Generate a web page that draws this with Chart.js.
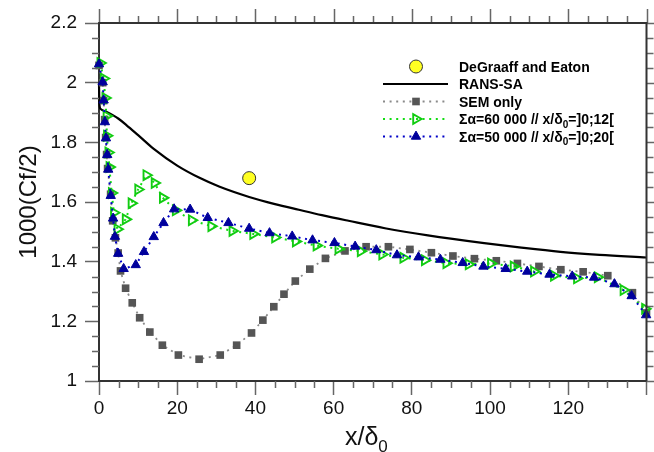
<!DOCTYPE html>
<html>
<head>
<meta charset="utf-8">
<title>Skin friction along the plate</title>
<script src="https://cdn.jsdelivr.net/npm/chart.js@4.4.1/dist/chart.umd.min.js"></script>
<style>
  html, body { margin: 0; padding: 0; background: #fff; }
  canvas { display: block; }
</style>
</head>
<body>
<canvas id="chart" width="654" height="452"></canvas>
<script>
// Cf distribution, RANS-SA vs SEM inflow variants.
const X_MIN = 0, X_MAX = 140, X_STEP = 20, X_MINOR = 5;
const Y_MIN = 1, Y_MAX = 2.2, Y_STEP = 0.2, Y_MINOR = 0.05;

const expX = [38.4];
const expY = [1.68];

const ransX = [0, 0.1, 0.4, 1.6, 3.3, 5, 7, 10, 14, 20, 25.7, 30.7, 38.4, 45, 51.1, 57, 63.8, 73.1, 84.1, 98.5, 108, 118, 128, 140];
const ransY = [2.0, 1.93, 1.912, 1.904, 1.893, 1.879, 1.858, 1.824, 1.778, 1.722, 1.681, 1.652, 1.617, 1.593, 1.574, 1.556, 1.537, 1.512, 1.488, 1.462, 1.447, 1.433, 1.423, 1.414];

const semX = [0, 0.94, 1.19, 1.45, 1.7, 1.95, 2.2, 2.97, 3.5, 4.2, 4.9, 5.5, 6.8, 8.5, 10.4, 13.0, 16.2, 20.3, 25.6, 31.0, 35.2, 39.0, 41.9, 44.7, 47.3, 50.2, 53.9, 57.9, 62.9, 68.3, 74.0, 79.5, 85.0, 90.5, 96.0, 101.6, 107.0, 112.5, 118.1, 123.8, 130.1, 136.4, 140];
const semY = [2.058, 2.0, 1.94, 1.876, 1.816, 1.759, 1.712, 1.626, 1.537, 1.48, 1.429, 1.369, 1.311, 1.262, 1.212, 1.164, 1.120, 1.087, 1.073, 1.087, 1.120, 1.161, 1.204, 1.249, 1.291, 1.335, 1.375, 1.411, 1.436, 1.450, 1.450, 1.441, 1.430, 1.419, 1.410, 1.403, 1.394, 1.384, 1.373, 1.366, 1.353, 1.296, 1.228];

const a60X = [0.33, 1.19, 1.6, 1.9, 2.0, 2.37, 2.65, 3.25, 3.8, 4.7, 6.8, 8.3, 10.0, 12.1, 14.2, 16.3, 19.6, 23.7, 28.7, 34.1, 39.4, 45.0, 50.3, 55.6, 61.2, 66.9, 72.4, 77.8, 83.3, 88.8, 94.5, 100.2, 106.0, 111.2, 116.3, 122.2, 127.5, 134.1, 139.6];
const a60Y = [2.066, 2.014, 1.949, 1.888, 1.822, 1.766, 1.717, 1.63, 1.564, 1.509, 1.542, 1.596, 1.642, 1.690, 1.664, 1.614, 1.572, 1.539, 1.519, 1.503, 1.493, 1.481, 1.468, 1.454, 1.443, 1.435, 1.424, 1.413, 1.405, 1.395, 1.391, 1.394, 1.384, 1.367, 1.353, 1.344, 1.348, 1.305, 1.242];

const a50X = [0, 0.94, 1.19, 1.5, 1.78, 2.1, 2.36, 3.0, 3.6, 4.07, 4.9, 6.3, 9.4, 11.5, 14.0, 16.5, 19.2, 23.3, 27.8, 33.1, 38.4, 43.6, 49.4, 54.6, 60.2, 65.5, 70.9, 76.2, 81.7, 87.3, 93.0, 98.3, 104.0, 109.5, 115.2, 121.0, 126.6, 131.8, 136.2, 139.9];
const a50Y = [2.062, 2.002, 1.941, 1.868, 1.814, 1.758, 1.709, 1.621, 1.545, 1.484, 1.427, 1.376, 1.389, 1.433, 1.483, 1.530, 1.576, 1.575, 1.547, 1.530, 1.511, 1.496, 1.485, 1.472, 1.463, 1.451, 1.439, 1.422, 1.415, 1.407, 1.396, 1.384, 1.376, 1.367, 1.357, 1.351, 1.347, 1.325, 1.285, 1.221];

const legendLabels = [
  'DeGraaff and Eaton',
  'RANS-SA',
  'SEM only',
  'Σα=60 000 // x/δ_0=]0;12[',
  'Σα=50 000 // x/δ_0=]0;20['
];

const FONT = '"Liberation Sans", Arial, Helvetica, sans-serif';
const DOTS = [2, 4.6];

const pts = (xs, ys) => xs.map((x, i) => ({ x, y: ys[i] }));

const datasets = [
  { label: legendLabels[0], data: pts(expX, expY), showLine: false, order: 0,
    pointStyle: 'circle', pointRadius: 6.5, pointBackgroundColor: '#ffff22',
    pointBorderColor: '#333', pointBorderWidth: 1 },
  { label: legendLabels[1], data: pts(ransX, ransY), showLine: true, order: 4,
    borderColor: '#000', borderWidth: 2.2, pointRadius: 0, cubicInterpolationMode: 'monotone' },
  { label: legendLabels[2], data: pts(semX, semY), showLine: true, order: 3,
    borderColor: '#8a8a8a', borderWidth: 1.8, borderDash: DOTS,
    pointStyle: 'rect', pointRadius: 5.4, pointBackgroundColor: '#555', pointBorderColor: '#555', pointBorderWidth: 0 },
  { label: legendLabels[3], data: pts(a60X, a60Y), showLine: true, order: 2,
    borderColor: '#11dd11', borderWidth: 2, borderDash: DOTS,
    pointStyle: 'triangle', pointRotation: 90, pointRadius: 5.6,
    pointBackgroundColor: 'rgba(0,0,0,0)', pointBorderColor: '#11cc11', pointBorderWidth: 1.9 },
  { label: legendLabels[4], data: pts(a50X, a50Y), showLine: true, order: 1,
    borderColor: '#0000c8', borderWidth: 2, borderDash: DOTS,
    pointStyle: 'triangle', pointRadius: 5.4, pointBackgroundColor: '#00009c',
    pointBorderColor: '#00009c', pointBorderWidth: 1 }
];

// text with "_c" meaning: draw c as a subscript
function richText(ctx, str, x, y, size, bold) {
  const parts = str.split(/_(.)/);
  const w = bold ? 'bold ' : '';
  parts.forEach((p, i) => {
    const sub = i % 2 === 1;
    ctx.font = w + (sub ? Math.round(size * 0.68) : size) + 'px ' + FONT;
    ctx.fillText(p, x, sub ? y + size * 0.28 : y);
    x += ctx.measureText(p).width;
  });
}

const frame = {
  id: 'frame',
  afterDraw(chart) {
    const { ctx, chartArea: a, scales: { x, y } } = chart;
    ctx.save();

    // minor ticks left/bottom, all ticks top/right
    ctx.strokeStyle = '#666';
    ctx.lineWidth = 1.5;
    ctx.beginPath();
    const nx = Math.round((X_MAX - X_MIN) / X_MINOR);
    for (let i = 0; i <= nx; i++) {
      const v = X_MIN + i * X_MINOR;
      const px = Math.round(x.getPixelForValue(v)) + 0.5;
      const major = Math.abs(v / X_STEP - Math.round(v / X_STEP)) < 1e-6;
      if (!major) { ctx.moveTo(px, a.bottom); ctx.lineTo(px, a.bottom + 7); }
      ctx.moveTo(px, a.top); ctx.lineTo(px, a.top - (major ? 14 : 7));
    }
    const ny = Math.round((Y_MAX - Y_MIN) / Y_MINOR);
    for (let i = 0; i <= ny; i++) {
      const v = Y_MIN + i * Y_MINOR;
      const py = Math.round(y.getPixelForValue(v)) + 0.5;
      const major = i % Math.round(Y_STEP / Y_MINOR) === 0;
      if (!major) { ctx.moveTo(a.left, py); ctx.lineTo(a.left - 7, py); }
      ctx.moveTo(a.right, py); ctx.lineTo(a.right + (major ? 14 : 7), py);
    }
    ctx.stroke();

    ctx.strokeStyle = '#333';
    ctx.lineWidth = 2;
    ctx.beginPath();
    ctx.moveTo(a.left, a.top);
    ctx.lineTo(a.right, a.top);
    ctx.lineTo(a.right, a.bottom);
    ctx.stroke();

    // axis titles
    ctx.fillStyle = '#111';
    ctx.textBaseline = 'alphabetic';
    ctx.save();
    ctx.translate(36, (a.top + a.bottom) / 2);
    ctx.rotate(-Math.PI / 2);
    ctx.textAlign = 'center';
    ctx.font = '24px ' + FONT;
    ctx.fillText('1000(Cf/2)', 0, 0);
    ctx.restore();
    ctx.textAlign = 'left';
    richText(ctx, 'x/δ_0', 345, 445, 25, false);

    // legend
    const rowY = [66.5, 84, 101.5, 119, 136.5];
    const lx0 = 383, lx1 = 448, mx = 416, tx = 459;
    chart.data.datasets.forEach((ds, i) => {
      const ry = rowY[i];
      if (ds.showLine) {
        ctx.save();
        ctx.strokeStyle = ds.borderColor;
        ctx.lineWidth = ds.borderWidth;
        ctx.setLineDash(ds.borderDash || []);
        ctx.beginPath();
        ctx.moveTo(lx0, ry);
        ctx.lineTo(lx1, ry);
        ctx.stroke();
        ctx.restore();
      }
      if (ds.pointRadius > 0) {
        ctx.fillStyle = ds.pointBackgroundColor;
        ctx.strokeStyle = ds.pointBorderColor;
        ctx.lineWidth = ds.pointBorderWidth;
        Chart.helpers.drawPoint(ctx, {
          pointStyle: ds.pointStyle, rotation: ds.pointRotation || 0,
          radius: ds.pointRadius, borderWidth: ds.pointBorderWidth
        }, mx, ry);
      }
      ctx.fillStyle = '#000';
      richText(ctx, ds.label, tx, ry + 5, 14, true);
    });

    ctx.restore();
  }
};

new Chart(document.getElementById('chart'), {
  type: 'scatter',
  data: { datasets },
  options: {
    responsive: false,
    animation: false,
    events: [],
    layout: { padding: { left: 0, top: 23, right: 3.5, bottom: 0 } },
    datasets: { scatter: { clip: false } },
    plugins: { legend: { display: false }, tooltip: { enabled: false } },
    scales: {
      x: {
        type: 'linear', position: 'bottom', min: X_MIN, max: X_MAX,
        afterFit: (s) => { s.height = 71; },
        border: { color: '#333', width: 2 },
        grid: { drawOnChartArea: false, drawTicks: true, tickLength: 14, tickColor: '#666', tickWidth: 1.5 },
        ticks: {
          stepSize: X_STEP, autoSkip: false, maxRotation: 0, padding: 2,
          color: '#111', font: { family: FONT, size: 19 },
          callback: (v) => (v === X_MAX ? '' : String(v))
        }
      },
      y: {
        type: 'linear', position: 'left', min: Y_MIN, max: Y_MAX,
        afterFit: (s) => { s.width = 99; },
        border: { color: '#333', width: 2 },
        grid: { drawOnChartArea: false, drawTicks: true, tickLength: 14, tickColor: '#666', tickWidth: 1.5 },
        ticks: {
          stepSize: Y_STEP, autoSkip: false, padding: 8,
          color: '#111', font: { family: FONT, size: 19 },
          callback: (v) => String(+v.toFixed(2))
        }
      }
    }
  },
  plugins: [frame]
});
</script>
</body>
</html>
